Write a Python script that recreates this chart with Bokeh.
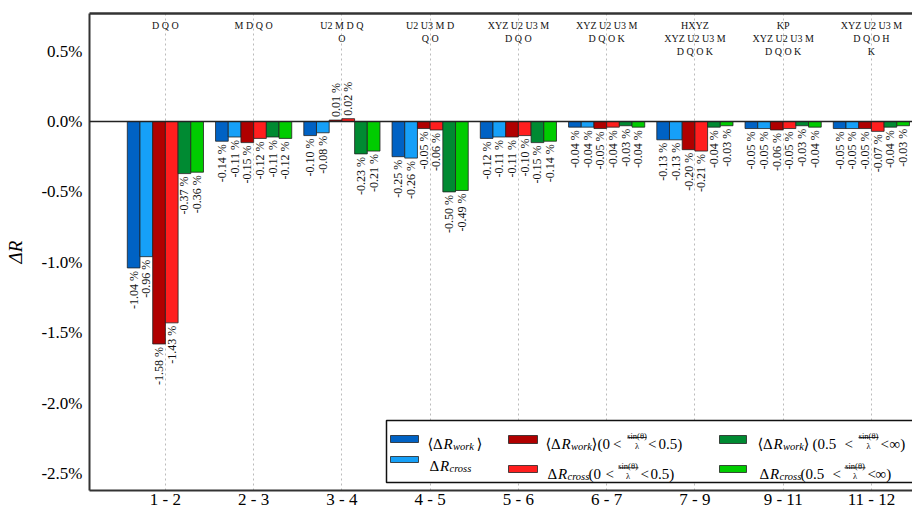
import math
from bokeh.plotting import figure
from bokeh.models import (Range1d, FixedTicker, CustomJSTickFormatter, LinearAxis,
                          Span, ColumnDataSource)
from bokeh.core.properties import value
from bokeh.embed import file_html
from bokeh.resources import INLINE

# ---------------- data ----------------
categories = ["1 - 2", "2 - 3", "3 - 4", "4 - 5", "5 - 6", "6 - 7", "7 - 9", "9 - 11", "11 - 12"]
layer_labels = ["D Q O", "M D Q O", "U2 M D Q\nO", "U2 U3 M D\nQ O", "XYZ U2 U3 M\nD Q O",
                "XYZ U2 U3 M\nD Q O K", "HXYZ\nXYZ U2 U3 M\nD Q O K", "KP\nXYZ U2 U3 M\nD Q O K",
                "XYZ U2 U3 M\nD Q O H\nK"]
dr_work = [-1.04, -0.14, -0.10, -0.25, -0.12, -0.04, -0.13, -0.05, -0.05]
dr_cross = [-0.96, -0.11, -0.08, -0.26, -0.11, -0.04, -0.13, -0.05, -0.05]
dr_work_low = [-1.58, -0.15, 0.01, -0.05, -0.11, -0.05, -0.20, -0.06, -0.05]
dr_cross_low = [-1.43, -0.12, 0.02, -0.06, -0.10, -0.04, -0.21, -0.05, -0.07]
dr_work_high = [-0.37, -0.11, -0.23, -0.50, -0.15, -0.03, -0.04, -0.03, -0.04]
dr_cross_high = [-0.36, -0.12, -0.21, -0.49, -0.14, -0.04, -0.03, -0.04, -0.03]
y_ticks = [-2.5, -2.0, -1.5, -1.0, -0.5, 0.0, 0.5]

colors = ["#0062C4", "#16A0F8", "#B00000", "#FF1E1E", "#008A32", "#00CC00"]
series = [dr_work, dr_cross, dr_work_low, dr_cross_low, dr_work_high, dr_cross_high]

# ---------------- layout helpers (page pixels -> data) ----------------
W, H = 912, 514
FL, FR, FT, FB = 89, 912, 13, 490
PX_CAT = 88.25
ZERO_PY = 121
PX_PCT = 140.8
x_start = -0.86
x_end = x_start + (FR - FL) / PX_CAT
y_end = (ZERO_PY - FT) / PX_PCT
y_start = -(FB - ZERO_PY) / PX_PCT


def X(px):
    return x_start + (px - FL) / PX_CAT


def Y(py):
    return (ZERO_PY - py) / PX_PCT


SERIF = "Liberation Serif, Times New Roman, Times, DejaVu Serif, serif"

p = figure(width=W, height=H, x_range=Range1d(x_start, x_end), y_range=Range1d(y_start, y_end),
           output_backend="svg", toolbar_location=None,
           min_border_left=FL, min_border_right=W - FR, min_border_top=FT,
           min_border_bottom=H - FB)
p.outline_line_color = None
p.background_fill_color = "white"
p.border_fill_color = "white"

# axes
xa = p.xaxis[0]
xa.ticker = FixedTicker(ticks=list(range(len(categories))))
xa.major_label_overrides = {i: c for i, c in enumerate(categories)}
xa.major_tick_line_color = None
xa.minor_tick_line_color = None
xa.major_tick_out = 0
xa.major_tick_in = 0
xa.major_label_standoff = -1
xa.major_label_text_font = SERIF
xa.major_label_text_font_size = "17px"
xa.major_label_text_color = "black"
xa.axis_line_width = 2
xa.axis_line_color = "#333333"

ya = p.yaxis[0]
ya.ticker = FixedTicker(ticks=y_ticks)
ya.formatter = CustomJSTickFormatter(code="return tick.toFixed(1) + '%';")
ya.major_tick_line_color = None
ya.minor_tick_line_color = None
ya.major_tick_out = 0
ya.major_tick_in = 0
ya.major_label_standoff = 7
ya.major_label_text_font = SERIF
ya.major_label_text_font_size = "17px"
ya.major_label_text_color = "black"
ya.axis_line_width = 2
ya.axis_line_color = "#333333"
ya.axis_label = "ΔR"
ya.axis_label_text_font = SERIF
ya.axis_label_text_font_size = "19px"
ya.axis_label_text_font_style = "italic"
ya.axis_label_text_color = "black"
ya.axis_label_standoff = 12

top_axis = LinearAxis(ticker=FixedTicker(ticks=[]), axis_line_width=2.5, axis_line_color="#333333",
                      major_tick_out=0, major_tick_in=0, major_label_standoff=0,
                      minor_tick_line_color=None, major_tick_line_color=None)
p.add_layout(top_axis, "above")

p.xgrid.ticker = FixedTicker(ticks=list(range(len(categories))))
p.xgrid.grid_line_color = "#bbbbbb"
p.xgrid.grid_line_dash = "2 3"
p.xgrid.grid_line_width = 1
p.ygrid.grid_line_color = None

# bars + value labels
BW = 0.1439
GAP = 3 / PX_PCT
for k, (vals, col) in enumerate(zip(series, colors)):
    off = (k - 2.5) * BW
    xs = [i + off for i in range(len(vals))]
    src = ColumnDataSource(dict(x=xs, top=vals))
    p.vbar(x="x", top="top", bottom=0, width=BW, fill_color=col, line_color="#222222",
           line_width=0.8, source=src)
    neg = dict(x=[], y=[], t=[])
    pos = dict(x=[], y=[], t=[])
    for xv, v in zip(xs, vals):
        d = neg if v < 0 else pos
        d["x"].append(xv)
        d["y"].append(v - GAP if v < 0 else v + GAP)
        d["t"].append(f"{v:.2f} %")
    for d, align in ((neg, "right"), (pos, "left")):
        if d["x"]:
            p.text(x="x", y="y", text="t", source=ColumnDataSource(d), angle=math.pi / 2,
                   text_align=align, text_baseline="middle", text_font=value(SERIF),
                   text_font_size="12px", text_color="#111111")

p.add_layout(Span(location=0, dimension="width", line_color="#222222", line_width=1.5))

# layer annotations on top
p.text(x=list(range(len(categories))), y=[Y(19)] * len(categories), text=layer_labels,
       text_align="center", text_baseline="top", text_font=value(SERIF),
       text_font_size="10px", text_line_height=1.2, text_color="#111111")

# ---------------- manual legend ----------------
p.quad(left=[X(386)], right=[X(930)], top=[Y(420)], bottom=[Y(482)], fill_color="white",
       line_color="#111111", line_width=1.5)

swatches = [(390, 418, 435, 442, 0), (390, 418, 456, 462, 1),
            (508, 537, 435, 443, 2), (508, 537, 465, 472, 3),
            (719, 746, 435, 443, 4), (719, 746, 465, 472, 5)]
for x0, x1, y0, y1, ci in swatches:
    p.quad(left=[X(x0)], right=[X(x1)], top=[Y(y0)], bottom=[Y(y1)], fill_color=colors[ci],
           line_color="#222222", line_width=0.8)


def txt(s, px, py, size=15, italic=False, align="left", font=SERIF):
    p.text(x=[X(px)], y=[Y(py)], text=[s], text_align=align, text_baseline="alphabetic",
           text_font=value(font), text_font_size=f"{size}px",
           text_font_style="italic" if italic else "normal", text_color="black")


BRACKET_FONT = "DejaVu Serif, DejaVu Sans, serif"


def dr(px, py, sub, brackets):
    x = px
    if brackets:
        txt("⟨", x, py, 15, font=BRACKET_FONT)
        x += 5.5
    txt("Δ", x, py)
    txt("R", x + 10.5, py, italic=True)
    txt(sub, x + 20, py + 2.5, 10.5, italic=True)
    return x


def frac(cx, bar_py, x0, x1):
    txt("sin(θ)", cx, bar_py - 1.5, 8.5, align="center")
    p.segment(x0=[X(x0)], y0=[Y(bar_py)], x1=[X(x1)], y1=[Y(bar_py)], line_color="black",
              line_width=0.8)
    txt("λ", cx, bar_py + 8, 8.5, align="center")


# column 1
dr(427, 443, "work", True)
txt("⟩", 476, 443, 15, font=BRACKET_FONT)
dr(429, 465, "cross", False)

# column 2
dr(545, 443, "work", True)
txt("⟩", 591, 443, 15, font=BRACKET_FONT)
txt("(0", 597, 443)
txt("<", 612.5, 443)
frac(636.5, 437, 627, 646)
txt("<", 647.5, 443)
txt("0.5)", 658, 443)

dr(547, 473, "cross", False)
txt("(0", 588, 473)
txt("<", 605, 473)
frac(627.5, 467.3, 618, 638)
txt("<", 640, 473)
txt("0.5)", 650, 473)

# column 3
dr(757, 443, "work", True)
txt("⟩", 803, 443, 15, font=BRACKET_FONT)
txt("(0.5", 812, 443)
txt("<", 844, 443)
frac(868, 437, 858, 878)
txt("<", 880, 443)
txt("∞)", 889, 443)

dr(759, 473, "cross", False)
txt("(0.5", 800, 473)
txt("<", 832, 473)
frac(854.5, 467.3, 844, 865)
txt("<", 867, 473)
txt("∞)", 875, 473)

open("out.html", "w").write(file_html(p, INLINE))
